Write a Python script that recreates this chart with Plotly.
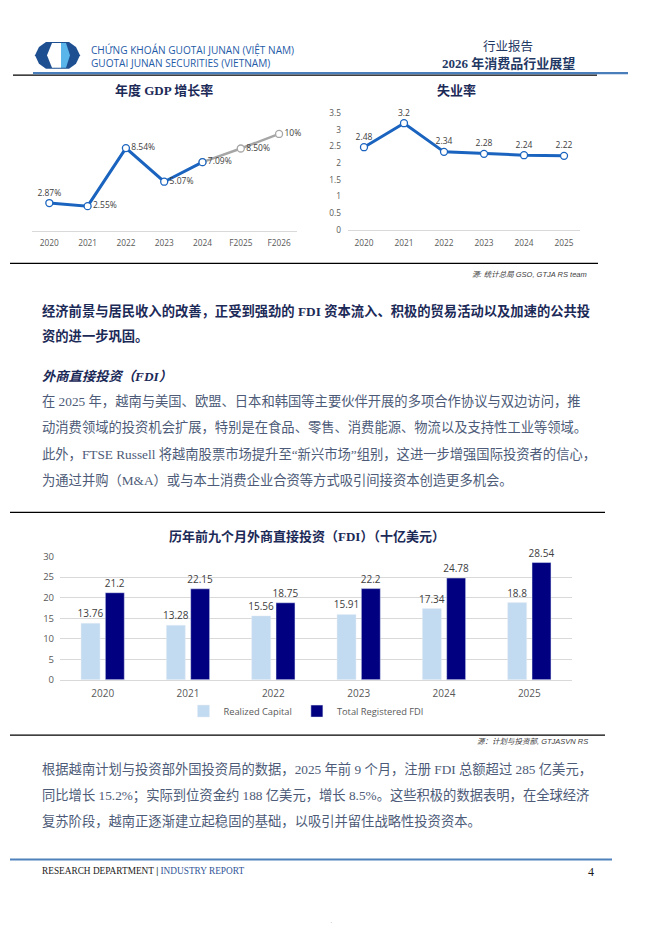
import plotly.graph_objects as go

W, H = 662, 936

# ---- data ----
gdp_years = ["2020", "2021", "2022", "2023", "2024", "F2025", "F2026"]
gdp_growth = [2.87, 2.55, 8.54, 5.07, 7.09, 8.50, 10.0]
gdp_labels = ["2.87%", "2.55%", "8.54%", "5.07%", "7.09%", "8.50%", "10%"]

jobless_years = ["2020", "2021", "2022", "2023", "2024", "2025"]
jobless_rate = [2.48, 3.2, 2.34, 2.28, 2.24, 2.22]

fdi_years = ["2020", "2021", "2022", "2023", "2024", "2025"]
fdi_realized = [13.76, 13.28, 15.56, 15.91, 17.34, 18.8]
fdi_registered = [21.2, 22.15, 18.75, 22.2, 24.78, 28.54]

# ---- styles ----
BLUE = "#1a64bf"
GREY_LINE = "#a6a6a6"
NAVY = "#1c2a58"
BODY = "#4d5b78"
TICK = "#595959"
LABEL = "#404040"
SANS = "Open Sans, Noto Sans CJK SC"
TEXT_FONT = "Liberation Serif, Noto Sans CJK SC"
SRC_FONT = "Liberation Sans, Noto Sans CJK SC"


def px(x):
    return x / W


def py(y):
    return 1 - y / H


fig = go.Figure()

# GDP growth: actual part in blue, forecast part in grey
n_act = sum(1 for y in gdp_years if not y.startswith("F"))
fig.add_trace(go.Scatter(
    x=gdp_years[n_act - 1:], y=gdp_growth[n_act - 1:],
    text=[""] + gdp_labels[n_act:], textposition="middle right",
    mode="lines+markers+text", cliponaxis=False,
    line=dict(color=GREY_LINE, width=2.5),
    marker=dict(size=7, color="white", line=dict(color=GREY_LINE, width=1.3)),
    textfont=dict(size=8.5, color=LABEL, family=SANS),
    showlegend=False, xaxis="x", yaxis="y"
))
fig.add_trace(go.Scatter(
    x=gdp_years[:n_act], y=gdp_growth[:n_act],
    text=gdp_labels[:n_act],
    textposition=["top center"] + ["middle right"] * (n_act - 1),
    mode="lines+markers+text", cliponaxis=False,
    line=dict(color=BLUE, width=3),
    marker=dict(size=7, color="white", line=dict(color=BLUE, width=1.3)),
    textfont=dict(size=8.5, color=LABEL, family=SANS),
    showlegend=False, xaxis="x", yaxis="y"
))

# unemployment
fig.add_trace(go.Scatter(
    x=jobless_years, y=jobless_rate,
    text=[str(v) for v in jobless_rate], textposition="top center",
    mode="lines+markers+text", cliponaxis=False,
    line=dict(color=BLUE, width=3),
    marker=dict(size=7, color="white", line=dict(color=BLUE, width=1.3)),
    textfont=dict(size=8.5, color=LABEL, family=SANS),
    showlegend=False, xaxis="x2", yaxis="y2"
))

# FDI bars
fig.add_trace(go.Bar(
    x=fdi_years, y=fdi_realized, name="Realized Capital",
    marker_color="#c3dbf0", text=[str(v) for v in fdi_realized],
    textposition="outside", constraintext="none", cliponaxis=False,
    textfont=dict(size=10, color=LABEL, family=SANS),
    xaxis="x3", yaxis="y3"
))
fig.add_trace(go.Bar(
    x=fdi_years, y=fdi_registered, name="Total Registered FDI",
    marker_color="#000080", text=[str(v) for v in fdi_registered],
    textposition="outside", constraintext="none", cliponaxis=False,
    textfont=dict(size=10, color=LABEL, family=SANS),
    xaxis="x3", yaxis="y3"
))

tickf = dict(size=8.3, color=TICK, family=SANS)

# ---- lines and logo ----
shapes = []


def hline(x0, x1, y, color, width):
    shapes.append(dict(type="line", xref="paper", yref="paper",
                       x0=px(x0), x1=px(x1), y0=py(y), y1=py(y),
                       line=dict(color=color, width=width)))


def poly(points, color):
    d = "M " + " L ".join(f"{px(a):.5f},{py(b):.5f}" for a, b in points) + " Z"
    shapes.append(dict(type="path", xref="paper", yref="paper", path=d,
                       fillcolor=color, line=dict(width=0)))


hline(13, 597, 69, "black", 1.2)
hline(33, 628, 67, "#4a7ebb", 2.2)
hline(10, 598, 260, "black", 1.3)
hline(10, 605, 512.5, "black", 1.3)
hline(10, 605, 738.3, "black", 1.3)
hline(10, 612, 864.5, "#4f81bd", 2.2)

poly([(35, 49), (39, 40.5), (46, 35.5), (69, 35.5), (76, 40.5), (80, 49),
      (76, 57.5), (69, 62.5), (46, 62.5), (39, 57.5)], "#1d4f91")
poly([(52, 36.5), (61, 36.5), (61, 61.5), (52, 61.5), (47, 49)], "white")
poly([(61, 36.5), (66, 36.5), (70, 49), (66, 61.5), (61, 61.5)], "#5ab6ea")

# ---- text ----
ann = []


def txt(s, x, y, size, color, family=TEXT_FONT, anchor="left"):
    ann.append(dict(text=s, x=px(x), y=py(y), xref="paper", yref="paper",
                    xanchor=anchor, yanchor="middle", showarrow=False,
                    font=dict(size=size, color=color, family=family)))


txt("CHỨNG KHOÁN GUOTAI JUNAN (VIỆT NAM)", 89, 43.7, 10.1, "#1f5ca8", SANS)
txt("GUOTAI JUNAN SECURITIES (VIETNAM)", 89, 56.3, 10.1, "#1f5ca8", SANS)
txt("行业报告", 508, 40.5, 12.5, "#1f3864", anchor="center")
txt("<b>2026 年消费品行业展望</b>", 508, 57.3, 13, "#1f3864", anchor="center")

txt("<b>年度 GDP 增长率</b>", 164, 85, 13, NAVY, anchor="center")
txt("<b>失业率</b>", 456, 85, 13, NAVY, anchor="center")
txt("<i>源: 统计总局 GSO, GTJA RS team</i>", 589, 271, 7.5, LABEL, SRC_FONT, "right")

txt("<b>经济前景与居民收入的改善，正受到强劲的 FDI 资本流入、积极的贸易活动以及加速的公共投</b>",
    40, 308.3, 13.3, NAVY)
txt("<b>资的进一步巩固。</b>", 40, 333.3, 13.3, NAVY)
txt("<b><i>外商直接投资（FDI）</i></b>", 40, 375, 13.3, NAVY)
body1 = [
    "在 2025 年，越南与美国、欧盟、日本和韩国等主要伙伴开展的多项合作协议与双边访问，推",
    "动消费领域的投资机会扩展，特别是在食品、零售、消费能源、物流以及支持性工业等领域。",
    "此外，FTSE Russell 将越南股票市场提升至“新兴市场”组别，这进一步增强国际投资者的信心，",
    "为通过并购（M&amp;A）或与本土消费企业合资等方式吸引间接资本创造更多机会。",
]
for i, line in enumerate(body1):
    txt(line, 40, 400 + i * 26.4, 13.3, BODY)

txt("<b>历年前九个月外商直接投资（FDI）（十亿美元）</b>", 307, 536.7, 13, NAVY, anchor="center")
txt("<i>源：计划与投资部, GTJASVN RS</i>", 589.5, 744.5, 7.5, LABEL, SRC_FONT, "right")

body2 = [
    "根据越南计划与投资部外国投资局的数据，2025 年前 9 个月，注册 FDI 总额超过 285 亿美元，",
    "同比增长 15.2%；实际到位资金约 188 亿美元，增长 8.5%。这些积极的数据表明，在全球经济",
    "复苏阶段，越南正逐渐建立起稳固的基础，以吸引并留住战略性投资资本。",
]
for i, line in enumerate(body2):
    txt(line, 40, 773 + i * 26.4, 13.3, BODY)

txt("RESEARCH DEPARTMENT <b>|</b> <span style='color:#2f5597'>INDUSTRY REPORT</span>",
    40, 876, 9.3, "#1a1a1a")
txt("4", 586, 877, 12, "#1a1a1a")
txt("·", 331, 928, 8, "#bbbbbb", anchor="center")

fig.update_layout(
    width=W, height=H, margin=dict(l=0, r=0, t=0, b=0),
    paper_bgcolor="white", plot_bgcolor="white",
    shapes=shapes, annotations=ann,
    barmode="group", bargap=0.43, bargroupgap=0.22,
    legend=dict(orientation="h", x=px(306), xanchor="center", y=py(714), yanchor="middle",
                font=dict(size=9.3, color=TICK, family=SANS), itemwidth=30,
                bgcolor="rgba(0,0,0,0)"),
    xaxis=dict(domain=[px(31.7), px(296.7)], type="category", anchor="y",
               categoryorder="array", categoryarray=gdp_years,
               showline=True, linecolor="#d9d9d9", showgrid=False, ticks="",
               tickfont=tickf, ticklabelstandoff=4),
    yaxis=dict(domain=[py(227), py(114)], range=[0, 11.5], anchor="x",
               showticklabels=False, showgrid=False, zeroline=False),
    xaxis2=dict(domain=[px(348), px(580)], type="category", anchor="y2",
                showline=True, linecolor="#d9d9d9", showgrid=False, ticks="",
                tickfont=tickf, ticklabelstandoff=5),
    yaxis2=dict(domain=[py(226), py(107.7)], range=[0, 3.5], dtick=0.5, anchor="x2",
                showgrid=False, zeroline=False, showline=False, ticks="",
                tickfont=tickf, ticklabelstandoff=6),
    xaxis3=dict(domain=[px(60), px(572)], type="category", anchor="y3",
                showline=True, linecolor="#d9d9d9", showgrid=False, ticks="",
                tickfont=dict(size=10, color=TICK, family=SANS), ticklabelstandoff=4),
    yaxis3=dict(domain=[py(682.3), py(557.3)], range=[0, 30], dtick=5, anchor="x3",
                showgrid=True, gridcolor="#d9d9d9", zeroline=False, showline=False,
                ticks="", tickfont=dict(size=9.5, color=TICK, family=SANS),
                ticklabelstandoff=5),
)

# page body has a default margin; drop it so the page lines up with the window
fig.write_html("out.html", config={"displayModeBar": False},
               post_script="document.body.style.margin='0';")
